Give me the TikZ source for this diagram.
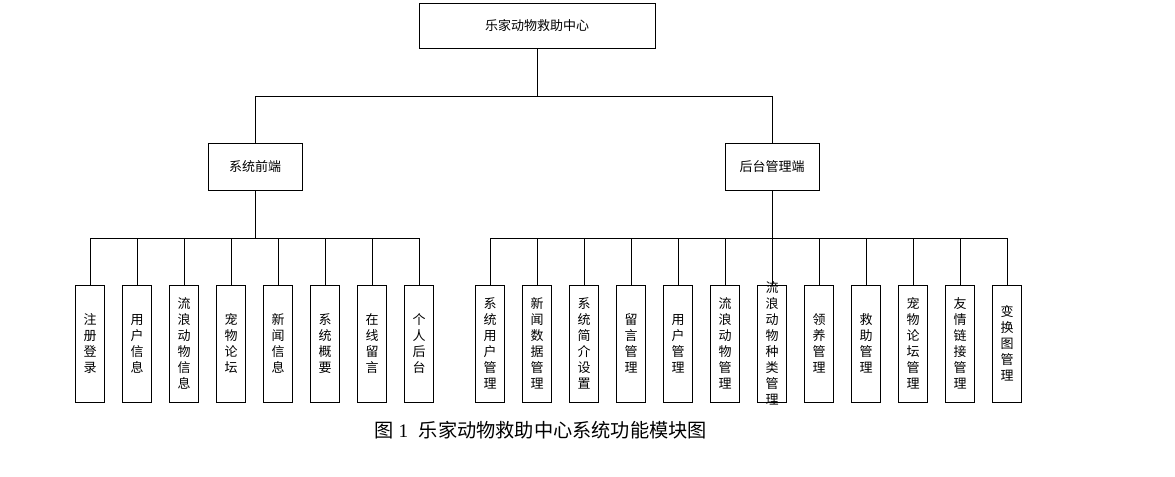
\documentclass[tikz,border=0pt]{standalone}
\usepackage{fontspec}
\setmainfont{Liberation Serif}
\newfontfamily\cjk{Noto Sans CJK SC}
\usetikzlibrary{positioning}
\tikzset{
 box/.style={draw,inner sep=0pt,font=\cjk\fontsize{9.75}{12}\selectfont},
 leaf/.style={draw,minimum width=21.75pt,minimum height=87.75pt,inner sep=0pt},
 leaftext/.style={inner sep=0pt,align=center,font=\cjk\fontsize{9.75}{12}\selectfont}
}

\begin{document}
\begin{tikzpicture}[x=0.75pt,y=-0.75pt,line width=0.6pt]
\useasboundingbox (0,0) rectangle (1175,476);

\node (root) at (537,25.5) [box,minimum width=177pt,minimum height=33.75pt] {乐家动物救助中心};
\node (fe) at (255,166.5) [box,minimum width=70.5pt,minimum height=35.25pt] {系统前端};
\node (be) at (772,166.5) [box,minimum width=70.5pt,minimum height=35.25pt] {后台管理端};

\coordinate (c0) at (537,96);
\coordinate (c1) at (255,238);
\coordinate (c2) at (772,238);

\draw (root.south) -- (c0);
\draw (fe.north) |- (c0);
\draw (be.north) |- (c0);
\draw (fe.south) -- (c1);
\draw (be.south) -- (c2);

% front end modules
\foreach \t [count=\i] in {{注\\册\\登\\录},{用\\户\\信\\息},{流\\浪\\动\\物\\信\\息},{宠\\物\\论\\坛},
  {新\\闻\\信\\息},{系\\统\\概\\要},{在\\线\\留\\言},{个\\人\\后\\台}} {
\node (f\i) at ({43+47*\i},343.5) [leaf] {};
\node at (f\i) [leaftext] {\t};
\draw (f\i.north) |- (c1);
}

% back end modules
\foreach \t [count=\i] in {{系\\统\\用\\户\\管\\理},{新\\闻\\数\\据\\管\\理},{系\\统\\简\\介\\设\\置},{留\\言\\管\\理},
  {用\\户\\管\\理},{流\\浪\\动\\物\\管\\理},{流\\浪\\动\\物\\种\\类\\管\\理},{领\\养\\管\\理},
  {救\\助\\管\\理},{宠\\物\\论\\坛\\管\\理},{友\\情\\链\\接\\管\\理},{变\\换\\图\\管\\理}} {
\node (b\i) at ({443+47*\i},343.5) [leaf] {};
\node at (b\i) [leaftext] {\t};
\draw (b\i.north) |- (c2);
}

\node (cap) at (540.5,430) [font=\fontsize{14.4}{17}\selectfont] {{\cjk 图}\hspace{4pt}1\hspace{8pt}{\cjk 乐家动物救助中心系统功能模块图}};
\end{tikzpicture}
\end{document}
